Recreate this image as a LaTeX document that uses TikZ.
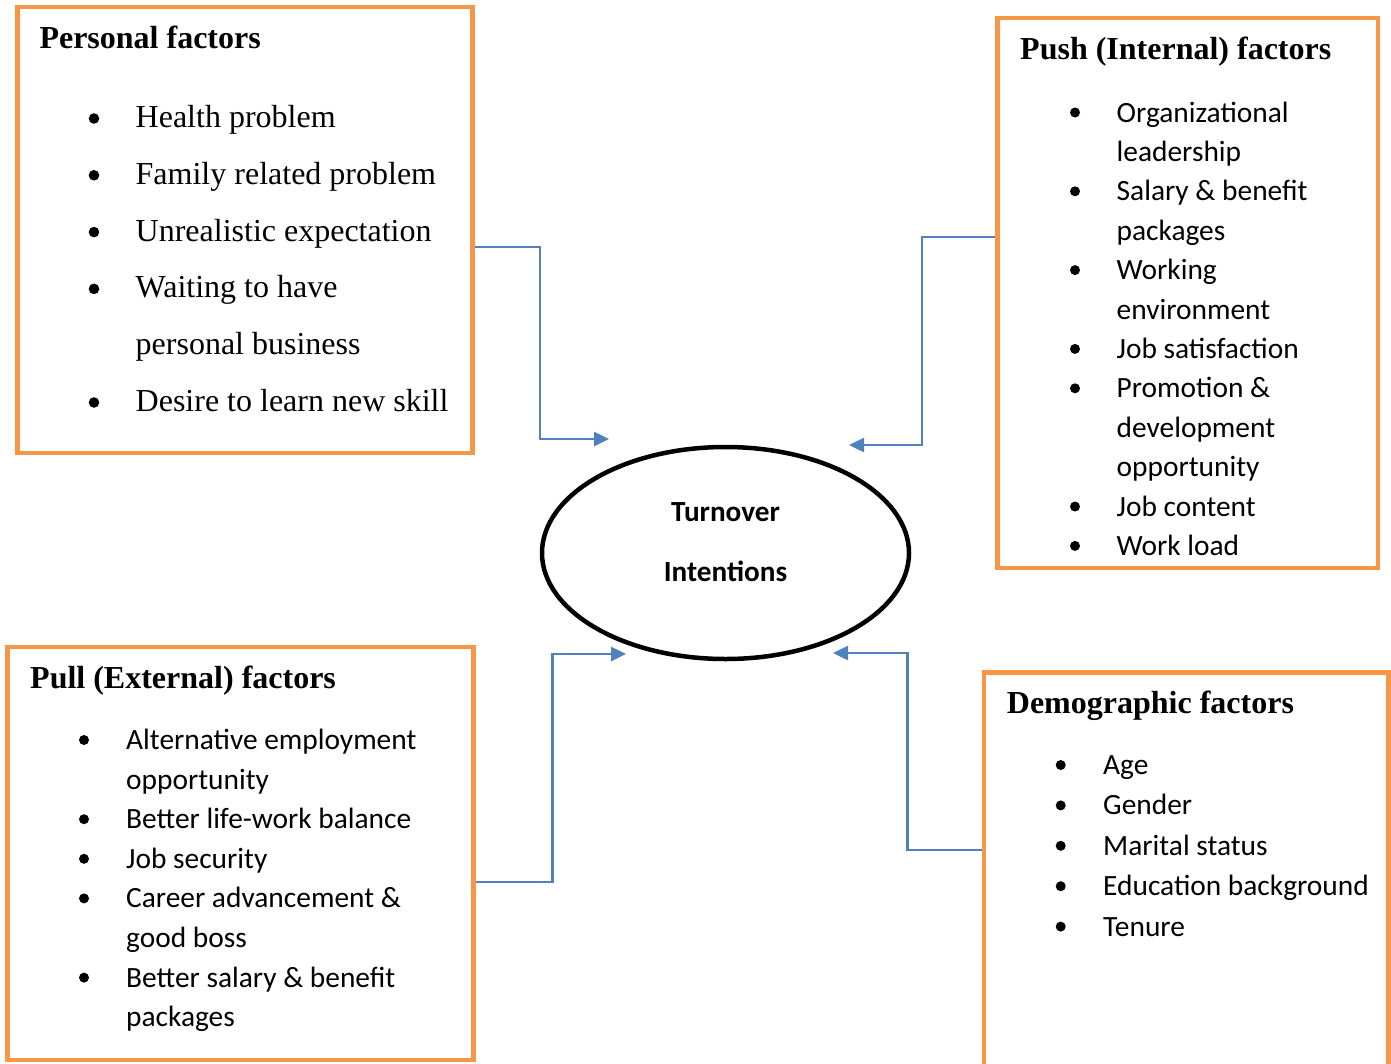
\documentclass[tikz,border=0pt]{standalone}
\usepackage{fontspec}
\setmainfont{Liberation Serif}
\newfontfamily\calfont{Carlito}
\usetikzlibrary{arrows.meta,shapes.geometric}
\definecolor{boxorange}{HTML}{F79646}
\definecolor{arrblue}{HTML}{4F81BD}
\begin{document}
\begin{tikzpicture}[x=1pt, y=-1pt,
    fbox/.style={draw=boxorange, line width=4.5pt, rectangle, inner sep=0pt},
    ttl/.style={font=\fontsize{32}{38}\selectfont\bfseries, anchor=base west, inner sep=0pt},
    seritm/.style={font=\fontsize{32}{38}\selectfont, anchor=base west, inner sep=0pt},
    calitm/.style={font=\calfont\fontsize{29.4}{35}\selectfont, anchor=base west, inner sep=0pt},
    conn/.style={draw=arrblue, line width=2.5pt, -{Triangle[length=15pt,width=14pt]}}]
  \useasboundingbox (0,0) rectangle (1391,1063);
  \clip (0,0) rectangle (1391,1063);
  \fill[white] (0,0) rectangle (1391,1063);
  % 枠
  \node[fbox, minimum width=455pt, minimum height=446pt] (pers) at (245,230) {};
  \node[fbox, minimum width=380.5pt, minimum height=550pt] (push) at (1187.75,293) {};
  \node[fbox, minimum width=466pt, minimum height=413pt] (pull) at (240.5,853.5) {};
  \node[fbox, minimum width=404.5pt, minimum height=460pt] (demo) at (1186.25,902.5) {};
  % 中央の楕円
  \node[ellipse, draw, line width=4.5pt, minimum width=367pt, minimum height=212pt,
        inner sep=0pt, align=center, text height=56pt, text depth=0pt,
        font=\calfont\bfseries\fontsize{29.2}{59.3}\selectfont] (ti) at (725.5,553)
        {Turnover\\Intentions};
  % Personal factors
  \node[ttl] (pers-t) at (39.3,48.5) {Personal factors};
  \foreach \b/\s [count=\i] in {1/Health problem, 1/Family related problem,
      1/Unrealistic expectation, 1/Waiting to have, 0/personal business,
      1/Desire to learn new skill}{
    \node[seritm] (pers-\i) at (135.5,{127.5+56.8*(\i-1)}) {\s};
    \ifnum\b=1 \fill (94,{118.5+56.8*(\i-1)}) circle (5.3pt); \fi
  }
  % Push (Internal) factors
  \node[ttl] (push-t) at (1020,59.5) {Push (Internal) factors};
  \foreach \b/\s [count=\i] in {1/Organizational, 0/leadership, 1/Salary \& benefit,
      0/packages, 1/Working, 0/environment, 1/Job satisfaction, 1/Promotion \&,
      0/development, 0/opportunity, 1/Job content, 1/Work load}{
    \node[calitm] (push-\i) at (1116.5,{122+39.4*(\i-1)}) {\s};
    \ifnum\b=1 \fill (1075,{112.5+39.4*(\i-1)}) circle (5pt); \fi
  }
  % Pull (External) factors
  \node[ttl] (pull-t) at (30,688.5) {Pull (External) factors};
  \foreach \b/\s [count=\i] in {1/Alternative employment, 0/opportunity,
      1/Better life-work balance, 1/Job security, 1/Career advancement \&,
      0/good boss, 1/Better salary \& benefit, 0/packages}{
    \node[calitm] (pull-\i) at (126,{749.5+39.6*(\i-1)}) {\s};
    \ifnum\b=1 \fill (84,{740+39.6*(\i-1)}) circle (5pt); \fi
  }
  % Demographic factors
  \node[ttl] (demo-t) at (1006.7,713.5) {Demographic factors};
  \foreach \s [count=\i] in {Age, Gender, Marital status, Education background, Tenure}{
    \node[calitm] (demo-\i) at (1103,{774.5+40.4*(\i-1)}) {\s};
    \fill (1060.7,{765+40.4*(\i-1)}) circle (5pt);
  }
  % 矢印
  \coordinate (t1) at (609,439);
  \coordinate (t2) at (849,445);
  \coordinate (t3) at (626,654);
  \coordinate (t4) at (833,653);
  \draw[conn] ([yshift=-17pt]pers.east) -- ++(65,0) |- (t1);
  \draw[conn] ([yshift=56pt]push.west) -- ++(-73.5,0) |- (t2);
  \draw[conn] ([yshift=-28.5pt]pull.east) -- ++(76.5,0) |- (t3);
  \draw[conn] ([yshift=52.5pt]demo.west) -- ++(-74.5,0) |- (t4);
\end{tikzpicture}
\end{document}
